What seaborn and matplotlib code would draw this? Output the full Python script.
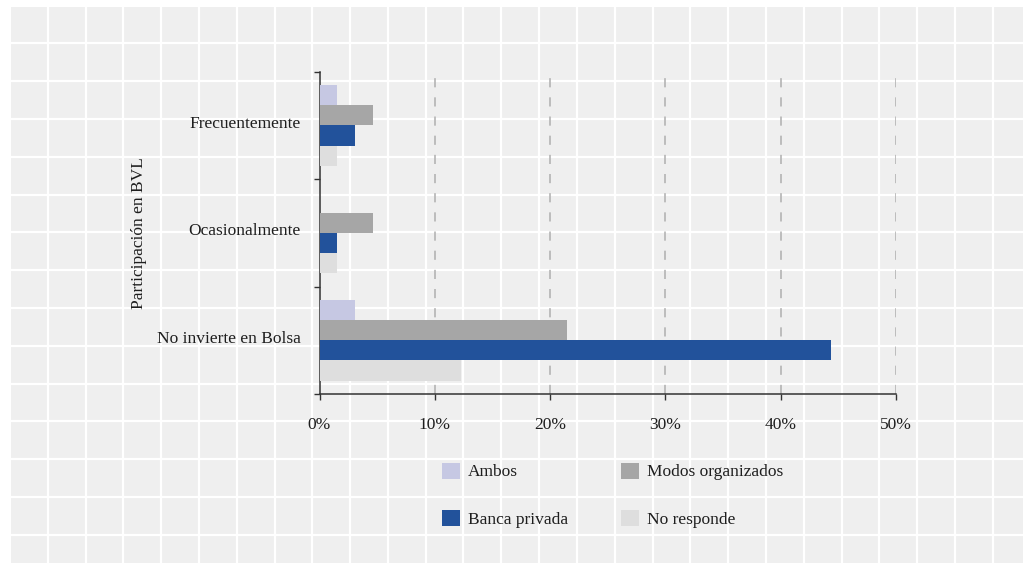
import numpy as np
import pandas as pd
import matplotlib
matplotlib.use("Agg")
import matplotlib.pyplot as plt
from matplotlib.patches import Rectangle, Patch
from matplotlib.ticker import PercentFormatter, FixedLocator
from matplotlib.transforms import ScaledTranslation
import seaborn as sns

# ---------------- data ----------------
categories = ["Frecuentemente", "Ocasionalmente", "No invierte en Bolsa"]
series = ["Ambos", "Modos organizados", "Banca privada", "No responde"]
ambos = [1.5, 0.0, 3.1]
modos_organizados = [4.6, 4.6, 21.5]
banca_privada = [3.1, 1.5, 44.4]
no_responde = [1.5, 1.5, 12.3]
x_ticks = [0, 10, 20, 30, 40, 50]
y_label = "Participación en BVL"

colors = {"Ambos": "#c6c8e3", "Modos organizados": "#a6a6a6",
          "Banca privada": "#22529b", "No responde": "#dedede"}

values = {"Ambos": ambos, "Modos organizados": modos_organizados,
          "Banca privada": banca_privada, "No responde": no_responde}
rows = []
for s in series:
    for c, v in zip(categories, values[s]):
        rows.append({"cat": c, "serie": s, "val": v})
df = pd.DataFrame(rows)

# ---------------- style ----------------
sns.set_style("white")
plt.rcParams["font.family"] = ["Liberation Serif", "DejaVu Serif"]
text_color = "#1e1e1e"
fs = 12.5

W, H = 1030, 564
fig = plt.figure(figsize=(W / 100, H / 100), dpi=100)
fig.patch.set_facecolor("white")

# decorative page background with white grid
bg = fig.add_axes([0, 0, 1, 1], zorder=-5)
bg.set_xlim(0, W)
bg.set_ylim(H, 0)
bg.axis("off")
bg.add_patch(Rectangle((10.7, 7), 1012.3, 556, facecolor="#efefef", edgecolor="none"))
for xv in np.arange(47.7, 1023, 37.8):
    bg.plot([xv, xv], [7, 563], color="white", lw=1.6, solid_capstyle="butt")
for yv in np.arange(43.3, 563, 37.8):
    bg.plot([10.7, 1023], [yv, yv], color="white", lw=1.6, solid_capstyle="butt")

# main axes
left, right = 319.5, 896.0
top, bottom = 71.7, 394.0
ax = fig.add_axes([left / W, 1 - bottom / H, (right - left) / W, (bottom - top) / H])
ax.patch.set_alpha(0)

sns.barplot(data=df, y="cat", x="val", hue="serie", hue_order=series,
            order=categories, orient="h", palette=colors, saturation=1,
            width=0.75, linewidth=0, ax=ax, legend=False, zorder=3)

ax.set_xlim(0, 50)
ax.set_ylim(2.5, -0.5)
ax.xaxis.set_major_locator(FixedLocator(x_ticks))
ax.xaxis.set_major_formatter(PercentFormatter(100, decimals=0))

# dashed vertical grid lines
for xv in x_ticks[1:]:
    ax.axvline(xv, color="#b4b4b4", lw=1.2, dashes=(5.5, 6.0), zorder=1)

for s in ["top", "right"]:
    ax.spines[s].set_visible(False)
for s in ["left", "bottom"]:
    ax.spines[s].set_color("#333333")
    ax.spines[s].set_linewidth(1.1)

ax.tick_params(axis="x", which="major", bottom=True, direction="out", length=4,
               width=1, color="#333333", pad=12.5, labelsize=fs,
               labelcolor=text_color)
ax.tick_params(axis="y", which="major", left=False, length=0, pad=13.5,
               labelsize=fs, labelcolor=text_color)
ax.yaxis.set_minor_locator(FixedLocator([-0.5, 0.5, 1.5, 2.5]))
ax.tick_params(axis="y", which="minor", left=True, direction="out", length=4.3,
               width=1, color="#333333")

# nudge category labels slightly upward, as in the reference
up = ScaledTranslation(0, 3.5 / 100, fig.dpi_scale_trans)
for lbl in ax.get_yticklabels():
    lbl.set_transform(lbl.get_transform() + up)

ax.set_xlabel("")
ax.set_ylabel(y_label, fontsize=fs, color=text_color, va="center")
ax.yaxis.set_label_coords((139 - left) / (right - left), 0.5)

# legend (column-major: Ambos, Banca / Modos, No responde)
leg_order = ["Ambos", "Banca privada", "Modos organizados", "No responde"]
handles = [Patch(facecolor=colors[s], edgecolor="none", label=s) for s in leg_order]
fig.legend(handles=handles, labels=leg_order, ncol=2, frameon=False,
           loc="upper left", bbox_to_anchor=(441.7 / W, 1 - 462.5 / H),
           borderaxespad=0, borderpad=0, fontsize=fs,
           handlelength=1.05, handleheight=1.05, handletextpad=0.45,
           labelspacing=1.72, columnspacing=3.05, labelcolor=text_color)

fig.savefig("out.png", dpi=100, facecolor="white")
